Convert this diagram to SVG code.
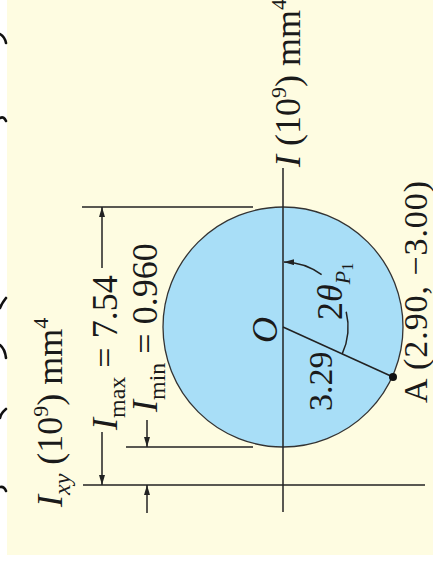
<svg xmlns="http://www.w3.org/2000/svg" width="433" height="573" viewBox="0 0 433 573">
<defs>
<style>
.ln{stroke:#222;stroke-width:1.5;fill:none}
.t{font-family:"Liberation Serif","Times New Roman",serif;font-size:36px;fill:#1a1a1a}
.i{font-style:italic}
.mk{stroke:#111;stroke-width:2.6;fill:none;stroke-linecap:round}
</style>
<marker id="arr" viewBox="0 0 10 6" refX="10" refY="3" markerWidth="10" markerHeight="6" markerUnits="userSpaceOnUse" orient="auto-start-reverse">
<path d="M0,0 L10,3 L0,6 z" fill="#222"/>
</marker>
</defs>
<rect x="0" y="0" width="433" height="573" fill="#ffffff"/>
<rect x="7" y="0" width="426" height="555" fill="#FEFCE1"/>
<g id="edge-marks">
<path class="mk" d="M0,34 Q5,37 6,43"/>
<path class="mk" d="M0,118 Q4,116 6,121"/>
<path class="mk" d="M6,298 Q2,303 0,308"/>
<path class="mk" d="M0,345 Q5,349 6,358"/>
<path class="mk" d="M6,409 Q1,413 0,418"/>
<path class="mk" d="M0,487 Q4,486 6,491"/>
</g>
<g id="mohr-circle">
<circle cx="283" cy="327" r="120" fill="#A8DEF7" stroke="#333" stroke-width="1.3"/>
</g>
<g id="connectors">
<line class="ln" x1="283" y1="168" x2="283" y2="512"/>
<line class="ln" x1="83" y1="485" x2="425" y2="485"/>
<line class="ln" x1="82" y1="207" x2="253" y2="207"/>
<line class="ln" x1="126" y1="447" x2="253" y2="447"/>
<line class="ln" x1="283" y1="327" x2="393" y2="377"/>
<line class="ln" x1="102" y1="268" x2="102" y2="207" marker-end="url(#arr)"/>
<line class="ln" x1="102" y1="432" x2="102" y2="485" marker-end="url(#arr)"/>
<line class="ln" x1="147" y1="420" x2="147" y2="447" marker-end="url(#arr)"/>
<line class="ln" x1="147" y1="513" x2="147" y2="485" marker-end="url(#arr)"/>
<path class="ln" d="M284,262 A65,65 0 0 1 321.6,274.7" stroke-width="1.2" marker-start="url(#arr)"/>
<path class="ln" d="M346.2,311.7 A65,65 0 0 1 342.2,353.9" stroke-width="1.2"/>
</g>
<g id="point-A">
<circle cx="393" cy="377" r="4" fill="#111"/>
<text class="t" style="font-size:34px" textLength="222" lengthAdjust="spacing" transform="translate(427,403) rotate(-90)">A (2.90, −3.00)</text>
</g>
<g id="label-O">
<text class="t i" transform="translate(277,343) rotate(-90)">O</text>
</g>
<g id="label-radius">
<text class="t" style="font-size:34px" transform="translate(332,411) rotate(-90)">3.29</text>
</g>
<g id="label-angle">
<text class="t" transform="translate(342,320) rotate(-90)">2<tspan class="i">θ</tspan><tspan class="i" style="font-size:22px" dy="8">P</tspan><tspan style="font-size:16px" dy="3">1</tspan></text>
</g>
<g id="label-I-axis">
<text class="t" transform="translate(300,167) rotate(-90)"><tspan class="i">I</tspan> (10<tspan style="font-size:22px" dy="-14">9</tspan><tspan dy="14">) mm</tspan><tspan style="font-size:22px" dy="-14">4</tspan></text>
</g>
<g id="label-Ixy-axis">
<text class="t" transform="translate(62,507) rotate(-90)"><tspan class="i">I</tspan><tspan class="i" style="font-size:24px" dy="8">xy</tspan><tspan dy="-8"> (10</tspan><tspan style="font-size:22px" dy="-14">9</tspan><tspan dy="14">) mm</tspan><tspan style="font-size:22px" dy="-14">4</tspan></text>
</g>
<g id="label-Imax">
<text class="t" transform="translate(117,430) rotate(-90)"><tspan class="i">I</tspan><tspan style="font-size:24px" dy="8">max</tspan><tspan dy="-8"> = 7.54</tspan></text>
</g>
<g id="label-Imin">
<text class="t" transform="translate(157,412) rotate(-90)"><tspan class="i">I</tspan><tspan style="font-size:24px" dy="8">min</tspan><tspan dy="-8"> = 0.960</tspan></text>
</g>
</svg>
